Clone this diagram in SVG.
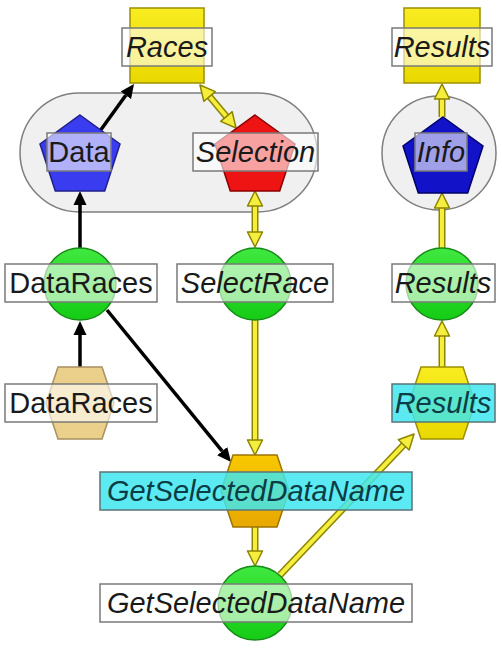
<svg xmlns="http://www.w3.org/2000/svg" width="502" height="654" viewBox="0 0 502 654">
<defs>
<style>
.lbl{fill:#ffffff;fill-opacity:0.6;stroke:#7a7a7a;stroke-width:1.5}
.cyan{fill:#3ee6ee;fill-opacity:0.85;stroke:#5a7478;stroke-width:1.5}
text{font-family:"Liberation Sans",Arial,sans-serif;font-size:29px;fill:#1a1a1a;text-anchor:middle}
.it{font-style:italic}
.ct{fill:#0c3c44}
.blk{stroke:#000;stroke-width:3.5;fill:none}
.ydark{stroke:#8c8400;stroke-width:7;fill:none}
.ylite{stroke:#f6ee3c;stroke-width:4;fill:none}
.green{fill:url(#gGreen);stroke:#178a17;stroke-width:1.5}
.yrect{fill:url(#gYellow);stroke:#9c9000;stroke-width:1.5}
.cont{fill:#f0f0f0;stroke:#7e7e7e;stroke-width:1.5}
</style>
<linearGradient id="gGreen" x1="0" y1="0" x2="0" y2="1"><stop offset="0" stop-color="#3fe83f"/><stop offset="1" stop-color="#15cc15"/></linearGradient>
<linearGradient id="gYellow" x1="0" y1="0" x2="0" y2="1"><stop offset="0" stop-color="#f8ec20"/><stop offset="1" stop-color="#ead800"/></linearGradient>
<linearGradient id="gOrange" x1="0" y1="0" x2="0" y2="1"><stop offset="0" stop-color="#f8c800"/><stop offset="1" stop-color="#e8a800"/></linearGradient>
<marker id="ab" viewBox="0 -7 14 14" refX="0" refY="0" markerWidth="14" markerHeight="14" markerUnits="userSpaceOnUse" orient="auto"><path d="M0,-6.5 L14,0 L0,6.5 Z" fill="#000"/></marker>
<marker id="ay" viewBox="-1 -9 18 18" refX="0" refY="0" markerWidth="18" markerHeight="18" markerUnits="userSpaceOnUse" orient="auto-start-reverse"><path d="M0,-7.5 L15,0 L0,7.5 Z" fill="#f6ee3c" stroke="#8c8400" stroke-width="1.5" stroke-linejoin="round"/></marker>
</defs>
<rect width="502" height="654" fill="#ffffff"/>

<g id="container-races">
<rect class="cont" x="20" y="93" width="297" height="119" rx="59.5"/>
</g>
<g id="container-results">
<circle class="cont" cx="439" cy="153" r="57"/>
</g>

<g id="connectors">
<line class="blk" x1="80" y1="248" x2="80" y2="205" marker-end="url(#ab)"/>
<line class="blk" x1="80" y1="368" x2="80" y2="335" marker-end="url(#ab)"/>
<line class="blk" x1="100" y1="131" x2="125.8" y2="95.3" marker-end="url(#ab)"/>
<line class="blk" x1="107" y1="310" x2="222.2" y2="451.2" marker-end="url(#ab)"/>

<line class="ydark" x1="209.6" y1="96.5" x2="226.4" y2="116.5"/>
<line class="ylite" x1="209.6" y1="96.5" x2="226.4" y2="116.5" marker-start="url(#ay)" marker-end="url(#ay)"/>
<line class="ydark" x1="255" y1="206" x2="255" y2="232"/>
<line class="ylite" x1="255" y1="206" x2="255" y2="232" marker-start="url(#ay)" marker-end="url(#ay)"/>
<line class="ydark" x1="442" y1="117" x2="442" y2="99"/>
<line class="ylite" x1="442" y1="117" x2="442" y2="99" marker-end="url(#ay)"/>
<line class="ydark" x1="442" y1="248" x2="442" y2="208"/>
<line class="ylite" x1="442" y1="248" x2="442" y2="208" marker-end="url(#ay)"/>
<line class="ydark" x1="442" y1="368" x2="442" y2="336"/>
<line class="ylite" x1="442" y1="368" x2="442" y2="336" marker-end="url(#ay)"/>
<line class="ydark" x1="255" y1="320" x2="255" y2="440"/>
<line class="ylite" x1="255" y1="320" x2="255" y2="440" marker-end="url(#ay)"/>
<line class="ydark" x1="255" y1="527" x2="255" y2="551"/>
<line class="ylite" x1="255" y1="527" x2="255" y2="551" marker-end="url(#ay)"/>
<line class="ydark" x1="280" y1="575" x2="403.7" y2="444.9"/>
<line class="ylite" x1="280" y1="575" x2="403.7" y2="444.9" marker-end="url(#ay)"/>
</g>

<g id="races">
<rect class="yrect" x="130" y="8" width="74" height="75"/>
<rect class="lbl" x="122" y="28" width="90" height="38"/>
<text class="it" x="167" y="57">Races</text>
</g>
<g id="results-top">
<rect class="yrect" x="404" y="8" width="76" height="75"/>
<rect class="lbl" x="392" y="28" width="100" height="38"/>
<text class="it" x="442" y="57">Results</text>
</g>
<g id="data">
<polygon points="80,115 120,144 104.7,191 55.3,191 40,144" fill="#3a3cf0" stroke="#20208a" stroke-width="1.5"/>
<rect class="lbl" x="47" y="133" width="64" height="38"/>
<text x="79" y="162">Data</text>
</g>
<g id="selection">
<polygon points="255,115 295,144 279.7,191 230.3,191 215,144" fill="#ee1414" stroke="#8a0000" stroke-width="1.5"/>
<rect class="lbl" x="193" y="133" width="125" height="38"/>
<text class="it" x="255.5" y="162">Selection</text>
</g>
<g id="info">
<polygon points="443,117 483,146 467.7,193 418.3,193 403,146" fill="#1212c8" stroke="#00006a" stroke-width="1.5"/>
<rect class="lbl" x="415" y="133" width="52" height="38"/>
<text class="it" x="441" y="162">Info</text>
</g>
<g id="dataraces-circle">
<circle class="green" cx="80" cy="284" r="36"/>
<rect class="lbl" x="5" y="264" width="152" height="38"/>
<text x="81" y="293">DataRaces</text>
</g>
<g id="selectrace">
<circle class="green" cx="255" cy="284" r="36"/>
<rect class="lbl" x="177" y="264" width="156" height="38"/>
<text class="it" x="255" y="293">SelectRace</text>
</g>
<g id="results-circle">
<circle class="green" cx="442" cy="284" r="36"/>
<rect class="lbl" x="392" y="264" width="103" height="38"/>
<text class="it" x="443" y="293">Results</text>
</g>
<g id="dataraces-hex">
<polygon points="58,367 102,367 114,403 102,439 58,439 46,403" fill="#ead08a" stroke="#a89060" stroke-width="1.5"/>
<rect class="lbl" x="5" y="384" width="152" height="38"/>
<text x="81" y="413">DataRaces</text>
</g>
<g id="results-hex">
<polygon points="421,367 463,367 475,403 463,439 421,439 409,403" fill="url(#gYellow)" stroke="#9c9000" stroke-width="1.5"/>
<rect class="cyan" x="392" y="384" width="103" height="38"/>
<text class="it ct" x="443" y="413">Results</text>
</g>
<g id="getselected-hex">
<polygon points="233,455 277,455 289,491 277,527 233,527 221,491" fill="url(#gOrange)" stroke="#9a7400" stroke-width="1.5"/>
<rect class="cyan" x="100" y="472" width="312" height="38"/>
<text class="it ct" x="256" y="501">GetSelectedDataName</text>
</g>
<g id="getselected-circle">
<circle class="green" cx="255" cy="603" r="37"/>
<rect class="lbl" x="100" y="584" width="312" height="38"/>
<text class="it" x="256" y="613">GetSelectedDataName</text>
</g>
</svg>
